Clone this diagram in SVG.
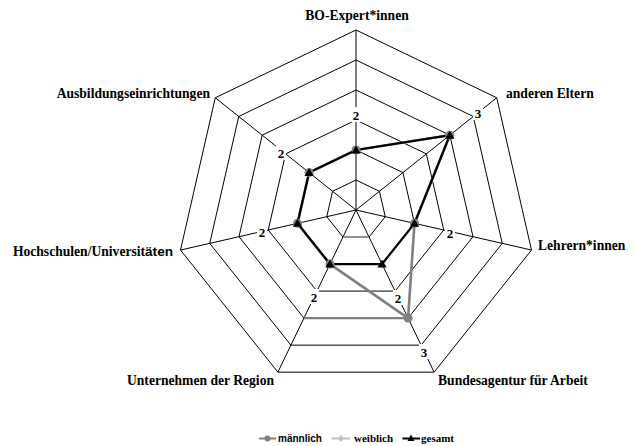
<svg xmlns="http://www.w3.org/2000/svg" width="635" height="446" viewBox="0 0 635 446">
  <style>
    .ring { fill: none; stroke: #000; stroke-width: 1; }
    .spoke { stroke: #000; stroke-width: 1; }
    .cat { font-family: "Liberation Serif", "Times New Roman", serif; font-weight: bold; font-size: 13.6px; fill: #000; }
    .sans { font-family: "Liberation Sans", Arial, sans-serif; font-weight: bold; }
    .val { font-family: "Liberation Serif", "Times New Roman", serif; font-weight: bold; font-size: 13px; fill: #000; text-anchor: middle; }
    .valbg { fill: #fff; }
    .leg { font-family: "Liberation Serif", "Times New Roman", serif; font-weight: bold; font-size: 11px; fill: #000; }
    .m-line { fill: none; stroke: #808080; stroke-width: 2.6; stroke-linejoin: round; }
    .g-line { fill: none; stroke: #000; stroke-width: 2.2; stroke-linejoin: miter; }
    .m-dot { fill: #808080; }
    .g-tri { fill: #000; }
  </style>
  <defs>
    <circle id="dot" r="4.5" class="m-dot"/>
    <path id="tri" d="M0,-4.5 L4.6,3.5 L-4.6,3.5 Z" class="g-tri"/>
  </defs>

  <rect width="635" height="446" fill="#fff"/>

  <!-- radar grid: six rings, seven spokes -->
  <g id="grid">
    <polygon class="ring" points="356,180 379.45,191.30 385.25,216.68 369.02,237.03 342.98,237.03 326.75,216.68 332.55,191.30"/>
    <polygon class="ring" points="356,150 402.91,172.59 414.50,223.35 382.03,264.06 329.97,264.06 297.50,223.35 309.09,172.59"/>
    <polygon class="ring" points="356,120 426.36,153.89 443.74,230.03 395.05,291.09 316.95,291.09 268.26,230.03 285.64,153.89"/>
    <polygon class="ring" points="356,90 449.82,135.18 472.99,236.70 408.07,318.12 303.93,318.12 239.01,236.70 262.18,135.18"/>
    <polygon class="ring" points="356,60 473.27,116.48 502.24,243.38 421.08,345.15 290.92,345.15 209.76,243.38 238.73,116.48"/>
    <polygon class="ring" points="356,30 496.73,97.77 531.49,250.05 434.10,372.17 277.90,372.17 180.51,250.05 215.27,97.77"/>
    <line class="spoke" x1="356" y1="210" x2="356" y2="30" stroke-width="2"/>
    <line class="spoke" x1="356" y1="210" x2="496.73" y2="97.77"/>
    <line class="spoke" x1="356" y1="210" x2="531.49" y2="250.05"/>
    <line class="spoke" x1="356" y1="210" x2="434.10" y2="372.17"/>
    <line class="spoke" x1="356" y1="210" x2="277.90" y2="372.17"/>
    <line class="spoke" x1="356" y1="210" x2="180.51" y2="250.05"/>
    <line class="spoke" x1="356" y1="210" x2="215.27" y2="97.77"/>
  </g>

  <!-- axis categories with their value labels -->
  <g id="node-bo">
    <text class="cat" x="357" y="20" text-anchor="middle">BO-Expert*innen</text>
    <rect class="valbg" x="351" y="107" width="10" height="15"/>
    <text class="val" x="356" y="119.5">2</text>
  </g>
  <g id="node-eltern">
    <text class="cat" x="506" y="98">anderen Eltern</text>
    <rect class="valbg" x="473" y="105" width="10" height="15"/>
    <text class="val" x="478" y="117.5">3</text>
  </g>
  <g id="node-lehrer">
    <text class="cat" x="538" y="250">Lehrern*innen</text>
    <rect class="valbg" x="445" y="225" width="10" height="15"/>
    <text class="val" x="450" y="237.5">2</text>
  </g>
  <g id="node-ba">
    <text class="cat" x="438" y="385">Bundesagentur für Arbeit</text>
    <rect class="valbg" x="393" y="290" width="10" height="15"/>
    <text class="val" x="398" y="302.5">2</text>
    <rect class="valbg" x="419" y="344" width="10" height="15"/>
    <text class="val" x="424" y="356.5">3</text>
  </g>
  <g id="node-unternehmen">
    <text class="cat" x="274" y="385" text-anchor="end">Unternehmen der Region</text>
    <rect class="valbg" x="309" y="289" width="10" height="15"/>
    <text class="val" x="314" y="301.5">2</text>
  </g>
  <g id="node-hochschulen">
    <text class="cat" x="173" y="256" text-anchor="end">Hochschulen/Universit<tspan class="sans">äten</tspan></text>
    <rect class="valbg" x="257" y="224" width="10" height="15"/>
    <text class="val" x="262" y="236.5">2</text>
  </g>
  <g id="node-ausbildung">
    <text class="cat" x="210" y="98" text-anchor="end">Ausbildungseinrichtungen</text>
    <rect class="valbg" x="276" y="145" width="10" height="15"/>
    <text class="val" x="281" y="157.5">2</text>
  </g>

  <!-- data series -->
  <g id="connectors">
    <line x1="342.98" y1="237.03" x2="369.02" y2="237.03" stroke="#a0a0a0" stroke-width="1.2"/>
    <line x1="303.93" y1="318.12" x2="408.07" y2="318.12" stroke="#808080" stroke-width="2.2"/>
    <polygon class="m-line" points="356,150 449.82,135.18 414.50,223.35 408.07,318.12 329.97,264.06 297.50,223.35 309.09,172.59"/>
    <polygon class="g-line" points="356,150 449.82,135.18 414.50,223.35 382.03,264.06 329.97,264.06 297.50,223.35 309.09,172.59"/>
  </g>

  <g id="markers">
    <use href="#dot" x="356" y="150"/>
    <use href="#dot" x="449.82" y="135.18"/>
    <use href="#dot" x="414.50" y="223.35"/>
    <use href="#dot" x="408.07" y="318.12"/>
    <use href="#dot" x="329.97" y="264.06"/>
    <use href="#dot" x="297.50" y="223.35"/>
    <use href="#dot" x="309.09" y="172.59"/>
    <use href="#tri" x="356" y="150"/>
    <use href="#tri" x="449.82" y="135.18"/>
    <use href="#tri" x="414.50" y="223.35"/>
    <use href="#tri" x="382.03" y="264.06"/>
    <use href="#tri" x="329.97" y="264.06"/>
    <use href="#tri" x="297.50" y="223.35"/>
    <use href="#tri" x="309.09" y="172.59"/>
  </g>

  <!-- legend -->
  <g id="legend">
    <line x1="259" y1="438.5" x2="276" y2="438.5" stroke="#808080" stroke-width="2"/>
    <circle cx="267.5" cy="438.5" r="3" fill="#808080"/>
    <text class="sans" x="278" y="442" font-size="10">männlich</text>
    <line x1="331.5" y1="438.5" x2="350" y2="438.5" stroke="#c0c0c0" stroke-width="2"/>
    <path d="M341,435 L344,438.5 L341,442 L338,438.5 Z" fill="#c0c0c0"/>
    <text class="leg" x="354" y="442">weiblich</text>
    <line x1="402.5" y1="438.5" x2="420" y2="438.5" stroke="#000" stroke-width="2"/>
    <path d="M411,434.5 L414.5,441 L407.5,441 Z" fill="#000"/>
    <text class="leg" x="421" y="442">gesamt</text>
  </g>
</svg>
